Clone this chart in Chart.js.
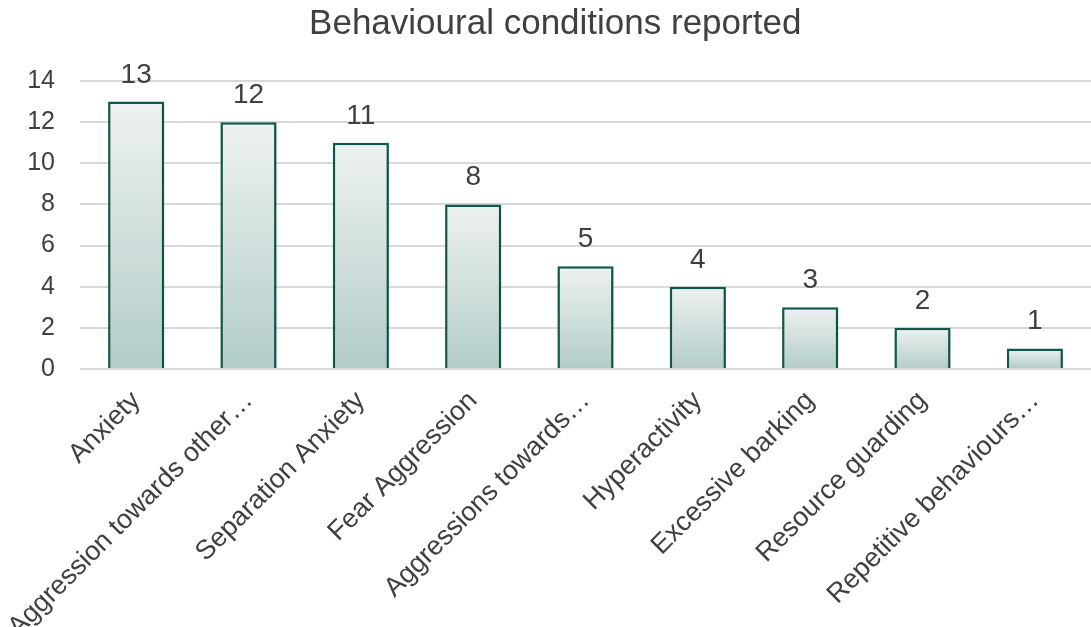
<html lang="en">
<head>
  <meta charset="UTF-8">
  <title>Behavioural conditions reported</title>
  <script src="https://cdn.jsdelivr.net/npm/chart.js"></script>
  <style>
    body, html {
      margin: 0;
      padding: 0;
      background-color: #ffffff;
      font-family: 'Liberation Sans', Arial, sans-serif;
    }
    #chart {
      display: block;
    }
  </style>
</head>
<body>
  <canvas id="chart" width="1091" height="627"></canvas>

  <script>
    const categories = [
      'Anxiety',
      'Aggression towards other…',
      'Separation Anxiety',
      'Fear Aggression',
      'Aggressions towards…',
      'Hyperactivity',
      'Excessive barking',
      'Resource guarding',
      'Repetitive behaviours…'
    ];
    const counts = [13, 12, 11, 8, 5, 4, 3, 2, 1];
    const yTicks = [0, 2, 4, 6, 8, 10, 12, 14];

    const textColor = '#404040';
    const fontFamily = "'Liberation Sans', Arial, sans-serif";

    // each bar gets its own light-to-dark gradient, top to bottom
    function barFill(context) {
      const chart = context.chart;
      if (!chart.chartArea || context.raw == null) return '#d0dedb';
      const y = chart.scales.y;
      const top = y.getPixelForValue(context.raw);
      const bottom = y.getPixelForValue(0);
      const g = chart.ctx.createLinearGradient(0, top, 0, bottom);
      g.addColorStop(0, '#eef2f1');
      g.addColorStop(1, '#b3ccc8');
      return g;
    }

    const barShadow = {
      id: 'barShadow',
      beforeDatasetDraw(chart) {
        const ctx = chart.ctx;
        ctx.save();
        ctx.shadowColor = 'rgba(0,0,0,0.22)';
        ctx.shadowBlur = 4;
        ctx.shadowOffsetX = 1;
        ctx.shadowOffsetY = 2;
      },
      afterDatasetDraw(chart) {
        chart.ctx.restore();
      }
    };

    const valueLabels = {
      id: 'valueLabels',
      afterDatasetsDraw(chart) {
        const ctx = chart.ctx;
        const meta = chart.getDatasetMeta(0);
        ctx.save();
        ctx.fillStyle = textColor;
        ctx.font = '28px ' + fontFamily;
        ctx.textAlign = 'center';
        ctx.textBaseline = 'alphabetic';
        meta.data.forEach((bar, i) => {
          ctx.fillText(String(counts[i]), bar.x, bar.y - 19);
        });
        ctx.restore();
      }
    };

    const ctx = document.getElementById('chart').getContext('2d');
    const chart = new Chart(ctx, {
      type: 'bar',
      data: {
        labels: categories,
        datasets: [{
          label: 'Count',
          data: counts,
          backgroundColor: barFill,
          borderColor: '#0e5b50',
          borderWidth: 2.5,
          borderSkipped: 'bottom',
          categoryPercentage: 0.5,
          barPercentage: 1
        }]
      },
      options: {
        responsive: false,
        animation: false,
        layout: { padding: 0 },
        plugins: {
          legend: { display: false },
          tooltip: { enabled: false },
          title: {
            display: true,
            // two leading spaces nudge the centred title a little right, like the original
            text: '  Behavioural conditions reported',
            color: textColor,
            font: { family: fontFamily, size: 35, weight: 'normal' },
            padding: { top: 3, bottom: 36 }
          }
        },
        scales: {
          x: {
            grid: { display: false },
            border: { display: false },
            ticks: {
              color: textColor,
              font: { family: fontFamily, size: 27 },
              minRotation: 45,
              maxRotation: 45,
              autoSkip: false,
              padding: 8
            },
            afterFit(scale) { scale.height = 258; }
          },
          y: {
            min: 0,
            max: 14,
            afterBuildTicks(scale) {
              scale.ticks = yTicks.map(v => ({ value: v }));
            },
            grid: {
              color: '#d9d9d9',
              lineWidth: 2,
              drawTicks: false
            },
            border: { display: false },
            ticks: {
              color: textColor,
              font: { family: fontFamily, size: 25 },
              padding: 25
            },
            afterFit(scale) { scale.width = 80; }
          }
        }
      },
      plugins: [barShadow, valueLabels]
    });
  </script>
</body>
</html>
